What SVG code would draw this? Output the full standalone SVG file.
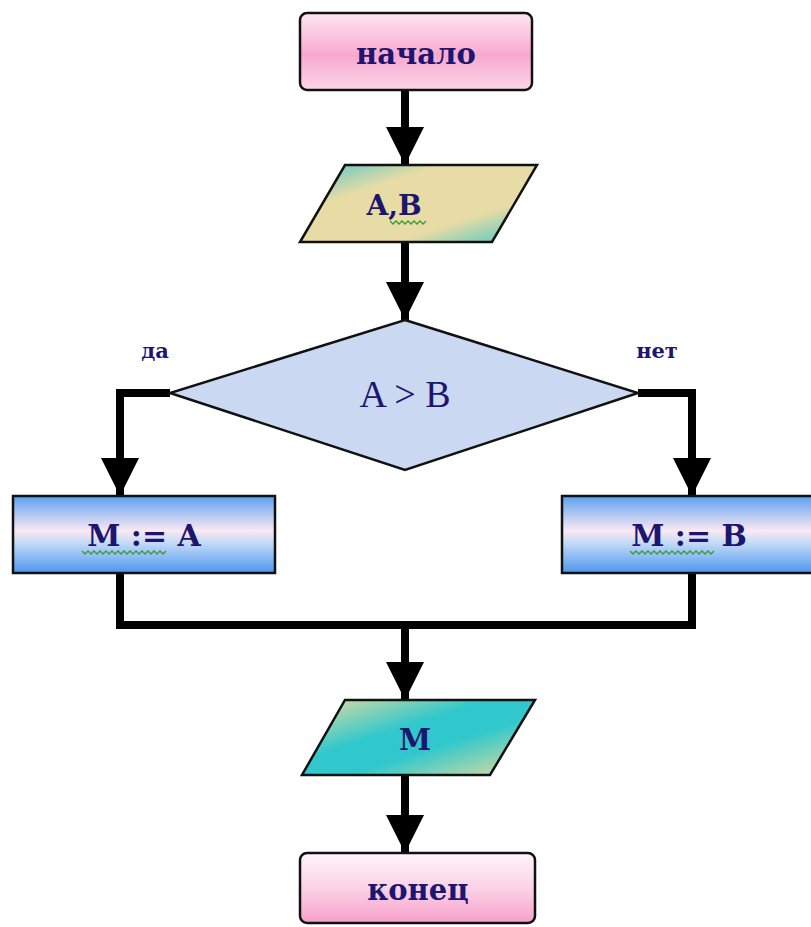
<svg xmlns="http://www.w3.org/2000/svg" width="811" height="927" viewBox="0 0 811 927">
<style>
.t{font-family:"DejaVu Serif","Liberation Serif",serif;font-weight:bold;fill:#1d1670;text-anchor:middle}
.shape{stroke:#111;stroke-width:2.5}
.wire{fill:none;stroke:#000;stroke-width:8;stroke-linejoin:miter}
.wave{fill:none;stroke:#3a9a3a;stroke-width:1.3}
</style>
<defs>
<linearGradient id="pink" x1="0" y1="0" x2="0" y2="1">
<stop offset="0" stop-color="#fde6f1"/><stop offset="0.55" stop-color="#f8a8cf"/><stop offset="1" stop-color="#fcd6e8"/>
</linearGradient>
<linearGradient id="pink2" x1="0" y1="0" x2="0" y2="1">
<stop offset="0" stop-color="#fff4f9"/><stop offset="0.5" stop-color="#fbd2e6"/><stop offset="1" stop-color="#f6a0ca"/>
</linearGradient>
<linearGradient id="io1" x1="0" y1="0" x2="1" y2="1">
<stop offset="0" stop-color="#4cc4cc"/><stop offset="0.3" stop-color="#e8dca6"/><stop offset="0.7" stop-color="#e8dca6"/><stop offset="1" stop-color="#3cc4c8"/>
</linearGradient>
<linearGradient id="io2" x1="0" y1="0" x2="1" y2="1">
<stop offset="0" stop-color="#ecdc9c"/><stop offset="0.4" stop-color="#30c8cc"/><stop offset="0.6" stop-color="#30c8cc"/><stop offset="1" stop-color="#ecdc9c"/>
</linearGradient>
<linearGradient id="blue" x1="0" y1="0" x2="0" y2="1">
<stop offset="0" stop-color="#5aa0f0"/><stop offset="0.45" stop-color="#fbe8f2"/><stop offset="0.6" stop-color="#c6dcf8"/><stop offset="1" stop-color="#4d96ee"/>
</linearGradient>
<marker id="ah" viewBox="0 0 10 10" refX="10" refY="5" markerWidth="4.8" markerHeight="5" orient="auto" markerUnits="strokeWidth">
<path d="M0,0 L10,5 L0,10 Z" fill="#000"/>
</marker>
</defs>

<g id="connectors">
<line class="wire" x1="405" y1="90" x2="405" y2="165" marker-end="url(#ah)"/>
<line class="wire" x1="405" y1="242" x2="405" y2="320" marker-end="url(#ah)"/>
<polyline class="wire" points="170,393 120,393 120,496" marker-end="url(#ah)"/>
<polyline class="wire" points="638,393 692,393 692,496" marker-end="url(#ah)"/>
<polyline class="wire" points="120,573 120,625 692,625 692,573"/>
<line class="wire" x1="405" y1="625" x2="405" y2="700" marker-end="url(#ah)"/>
<line class="wire" x1="405" y1="775" x2="405" y2="853" marker-end="url(#ah)"/>
</g>

<g id="start">
<rect class="shape" x="300" y="13" width="232" height="77" rx="7" fill="url(#pink)"/>
<text class="t" x="416" y="64" font-size="29">начало</text>
</g>

<g id="inputAB">
<polygon class="shape" points="345,165 537,165 492,242 300,242" fill="url(#io1)"/>
<text class="t" x="394" y="215" font-size="28">A,B</text>
<path class="wave" d="M390,221 l3,3 l3,-3 l3,3 l3,-3 l3,3 l3,-3 l3,3 l3,-3 l3,3 l3,-3 l3,3 l3,-3"/>
</g>

<g id="decision">
<polygon class="shape" points="405,320 638,393 405,470 170,393" fill="#cad8f2"/>
<text x="405" y="407" font-size="38" fill="#1d1670" text-anchor="middle" font-family="'Liberation Serif',serif">A &gt; B</text>
</g>

<text class="t" x="155" y="358" font-size="21">да</text>
<text class="t" x="657" y="358" font-size="21">нет</text>

<g id="assignA">
<rect class="shape" x="13" y="496" width="262" height="77" fill="url(#blue)"/>
<text class="t" x="144" y="546" font-size="30">M := A</text>
<path class="wave" d="M82,551 l3,3 l3,-3 l3,3 l3,-3 l3,3 l3,-3 l3,3 l3,-3 l3,3 l3,-3 l3,3 l3,-3 l3,3 l3,-3 l3,3 l3,-3 l3,3 l3,-3 l3,3 l3,-3 l3,3 l3,-3 l3,3 l3,-3 l3,3 l3,-3 l3,3 l3,-3"/>
</g>

<g id="assignB">
<rect class="shape" x="562" y="496" width="260" height="77" fill="url(#blue)"/>
<text class="t" x="689" y="546" font-size="30">M := B</text>
<path class="wave" d="M630,551 l3,3 l3,-3 l3,3 l3,-3 l3,3 l3,-3 l3,3 l3,-3 l3,3 l3,-3 l3,3 l3,-3 l3,3 l3,-3 l3,3 l3,-3 l3,3 l3,-3 l3,3 l3,-3 l3,3 l3,-3 l3,3 l3,-3 l3,3 l3,-3 l3,3 l3,-3"/>
</g>

<g id="outputM">
<polygon class="shape" points="345,700 535,700 490,775 302,775" fill="url(#io2)"/>
<text class="t" x="415" y="750" font-size="29">M</text>
</g>

<g id="end">
<rect class="shape" x="300" y="853" width="235" height="70" rx="7" fill="url(#pink2)"/>
<text class="t" x="418" y="900" font-size="29">конец</text>
</g>
</svg>
